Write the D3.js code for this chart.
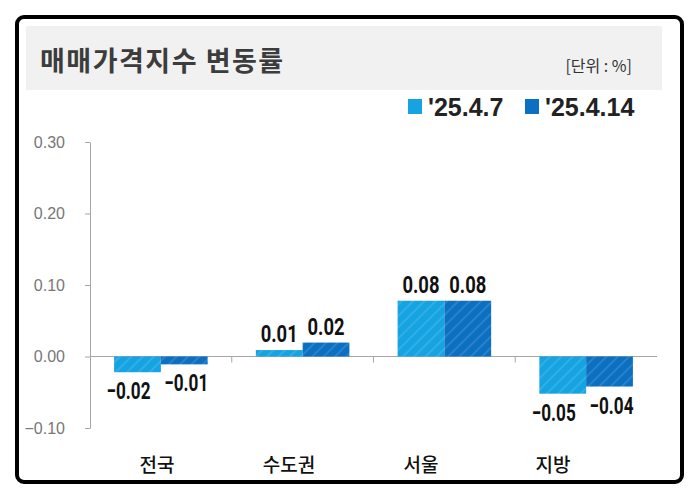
<!DOCTYPE html>
<html>
<head>
<meta charset="utf-8">
<script src="https://cdn.jsdelivr.net/npm/d3@7"></script>
<style>
  body { margin: 0; background: #fff; }
</style>
</head>
<body>
<div id="chart"></div>
<script>
// chart data
var categories = ["전국", "수도권", "서울", "지방"];
var seriesNames = ["'25.4.7", "'25.4.14"];
var week1 = [-0.022, 0.009, 0.078, -0.052];
var week2 = [-0.011, 0.0195, 0.078, -0.042];
var yTicks = [-0.10, 0.00, 0.10, 0.20, 0.30];

var colors = ["#15a3e2", "#0b6fc2"];

var svgWidth = 700;
var svgHeight = 501;

var svg = d3.select("#chart")
    .append("svg")
    .attr("width", svgWidth)
    .attr("height", svgHeight);

// bar stripe patterns
var defs = svg.append("defs");
colors.forEach(function(c, i) {
    var p = defs.append("pattern")
        .attr("id", "stripe" + i)
        .attr("patternUnits", "userSpaceOnUse")
        .attr("width", 8)
        .attr("height", 8)
        .attr("patternTransform", "rotate(45)");
    p.append("rect").attr("width", 8).attr("height", 8).attr("fill", c);
    p.append("rect").attr("x", 0).attr("width", 2).attr("height", 8)
        .attr("fill", "#ffffff").attr("opacity", 0.12);
});

// outer frame + title band
svg.append("rect")
    .attr("x", 17).attr("y", 17)
    .attr("width", 665).attr("height", 465)
    .attr("rx", 7)
    .attr("fill", "#fff")
    .attr("stroke", "#000")
    .attr("stroke-width", 4);

svg.append("rect")
    .attr("x", 26).attr("y", 26)
    .attr("width", 636).attr("height", 64)
    .attr("fill", "#f1f1f1");

svg.append("text")
    .attr("x", 40).attr("y", 59)
    .attr("dominant-baseline", "central")
    .style("font-family", "'Noto Sans CJK KR'")
    .style("font-weight", "bold")
    .style("font-size", "27px")
    .style("letter-spacing", "1.5px")
    .attr("fill", "#3c3c3c")
    .text("매매가격지수 변동률");

svg.append("text")
    .attr("x", 632).attr("y", 65)
    .attr("text-anchor", "end")
    .attr("dominant-baseline", "central")
    .style("font-family", "'Noto Sans CJK KR'")
    .style("font-size", "16px")
    .style("white-space", "pre")
    .attr("fill", "#333")
    .text("[단위 : %]");

// legend
var legendX = [408, 525];
seriesNames.forEach(function(name, i) {
    svg.append("rect")
        .attr("x", legendX[i]).attr("y", 99)
        .attr("width", 14).attr("height", 15)
        .attr("fill", colors[i]);
    svg.append("text")
        .attr("x", legendX[i] + 20).attr("y", 107)
        .attr("dominant-baseline", "central")
        .style("font-family", "'Liberation Sans'")
        .style("font-weight", "bold")
        .style("font-size", "25px")
        .attr("fill", "#222")
        .text(name);
});

// scales
var xScale = d3.scaleBand()
    .domain(categories)
    .range([90, 657]);

var labelScale = d3.scaleBand()
    .domain(categories)
    .range([91, 619]);

var yScale = d3.scaleLinear()
    .domain([-0.1, 0.3])
    .range([428, 142]);

var groupWidth = xScale.bandwidth() * 0.66;
var xSub = d3.scaleBand()
    .domain([0, 1])
    .range([0, groupWidth]);

// y axis
var yAxis = d3.axisLeft(yScale)
    .tickValues(yTicks)
    .tickFormat(d3.format(".2f"))
    .tickSize(5)
    .tickSizeOuter(0)
    .tickPadding(20);

var yG = svg.append("g")
    .attr("transform", "translate(90,0)")
    .call(yAxis);
yG.select(".domain").attr("stroke", "#a6a6a6");
yG.selectAll(".tick line").attr("stroke", "#a6a6a6");
yG.selectAll(".tick text")
    .style("font-family", "'Liberation Sans'")
    .style("font-size", "16px")
    .attr("fill", "#777");

// zero line and category ticks
svg.append("line")
    .attr("x1", 90).attr("x2", 657)
    .attr("y1", yScale(0)).attr("y2", yScale(0))
    .attr("stroke", "#a6a6a6");

svg.selectAll(".cattick")
    .data(categories.slice(1))
    .enter()
    .append("line")
    .attr("class", "cattick")
    .attr("x1", d => xScale(d)).attr("x2", d => xScale(d))
    .attr("y1", yScale(0)).attr("y2", yScale(0) + 6)
    .attr("stroke", "#a6a6a6");

// bars
var rows = [];
categories.forEach(function(c, i) {
    rows.push({ cat: c, s: 0, v: week1[i] });
    rows.push({ cat: c, s: 1, v: week2[i] });
});

function barX(d) {
    return xScale(d.cat) + (xScale.bandwidth() - groupWidth) / 2 + xSub(d.s);
}

svg.selectAll(".bar")
    .data(rows)
    .enter()
    .append("rect")
    .attr("class", "bar")
    .attr("x", barX)
    .attr("width", xSub.bandwidth())
    .attr("y", d => yScale(Math.max(0, d.v)))
    .attr("height", d => Math.abs(yScale(d.v) - yScale(0)))
    .attr("fill", d => "url(#stripe" + d.s + ")");

// value labels (condensed look via textLength)
var fmt = d3.format(".2f");
svg.selectAll(".vlabel")
    .data(rows)
    .enter()
    .append("text")
    .attr("class", "vlabel")
    .attr("x", d => barX(d) + xSub.bandwidth() / 2 - (d.v < 0 ? (d.s == 0 ? 9 : -2) : 0))
    .attr("y", d => d.v >= 0 ? yScale(d.v) - 8 : yScale(d.v) + 27)
    .attr("text-anchor", "middle")
    .attr("textLength", d => d.v < 0 ? 44 : 37)
    .attr("lengthAdjust", "spacingAndGlyphs")
    .style("font-family", "Roboto, 'Liberation Sans', sans-serif")
    .style("font-weight", "bold")
    .style("font-size", "24px")
    .attr("fill", "#111")
    .text(d => fmt(d.v).replace("-", "−"));

// category labels
svg.selectAll(".clabel")
    .data(categories)
    .enter()
    .append("text")
    .attr("class", "clabel")
    .attr("x", d => labelScale(d) + labelScale.bandwidth() / 2)
    .attr("y", 463)
    .attr("text-anchor", "middle")
    .attr("dominant-baseline", "central")
    .style("font-family", "'Noto Sans CJK KR'")
    .style("font-weight", "500")
    .style("font-size", "19px")
    .attr("fill", "#111")
    .text(d => d);
</script>
</body>
</html>
